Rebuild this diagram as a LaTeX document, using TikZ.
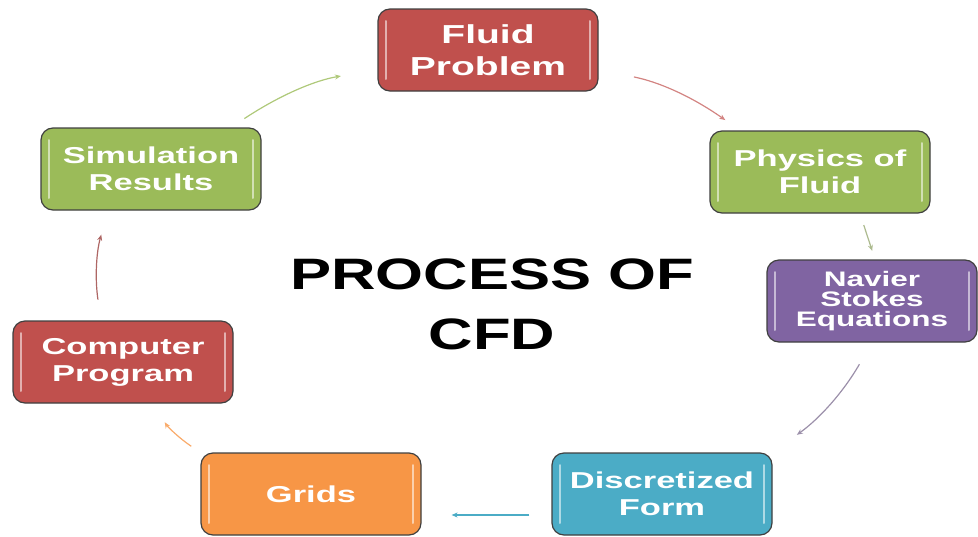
\documentclass[tikz,border=0pt]{standalone}
\usepackage{fontspec}
\setmainfont{Liberation Sans}
\newfontfamily\boxfont[FakeStretch=1.5]{Liberation Sans}
\newfontfamily\titlefont[FakeStretch=1.4]{Liberation Sans}
\usetikzlibrary{arrows.meta}
\definecolor{cfdred}{HTML}{C0504D}
\definecolor{cfdgreen}{HTML}{9BBB59}
\definecolor{cfdpurple}{HTML}{8064A2}
\definecolor{cfdblue}{HTML}{4BACC6}
\definecolor{cfdorange}{HTML}{F79646}
\tikzset{
  stage/.style={draw=black!75, line width=1.2pt, rounded corners=12pt, fill=#1,
    text=white, align=center, inner sep=2pt, minimum width=220pt, minimum height=82pt,
    font=\boxfont\bfseries\fontsize{23}{27}\selectfont,
    path picture={
      \draw[white!55!#1, line width=2pt, line cap=round]
        ([xshift=8pt,yshift=-12pt]path picture bounding box.north west) --
        ([xshift=8pt,yshift=12pt]path picture bounding box.south west);
      \draw[white!55!#1, line width=2pt, line cap=round]
        ([xshift=-8pt,yshift=-12pt]path picture bounding box.north east) --
        ([xshift=-8pt,yshift=12pt]path picture bounding box.south east);
    }},
  flow/.style={draw=#1, line width=1.2pt, -{Stealth[length=6pt,width=5pt]}, bend left=12}
}
\begin{document}
\begin{tikzpicture}[x=1pt,y=1pt]
  \useasboundingbox (0,0) rectangle (978,-536);
  % stages of the cycle
  \node[stage=cfdred, font=\boxfont\bfseries\fontsize{26}{32}\selectfont] (fluid) at (488,-50) {Fluid\\Problem};
  \node[stage=cfdgreen] (physics) at (820,-172) {Physics of\\Fluid};
  \node[stage=cfdpurple, minimum width=210pt, font=\boxfont\bfseries\fontsize{21}{20}\selectfont] (navier) at (872,-301) {Navier\\Stokes\\Equations};
  \node[stage=cfdblue] (disc) at (662,-494) {Discretized\\Form};
  \node[stage=cfdorange] (grids) at (311,-494) {Grids};
  \node[stage=cfdred] (computer) at (123,-362) {Computer\\Program};
  \node[stage=cfdgreen] (sim) at (151,-169) {Simulation\\Results};
  % title
  \node[inner sep=0pt, align=center, font=\titlefont\bfseries\fontsize{44}{60}\selectfont] (title) at (492,-304) {PROCESS OF\\CFD};
  % arrows
  \draw[flow=cfdred!70, shorten <=36pt, shorten >=18pt] ([yshift=-20pt]fluid.east) to ([xshift=-80pt]physics.north);
  \draw[flow=black!25!cfdgreen!60, shorten <=12pt, shorten >=9pt] ([xshift=40pt]physics.south) -- ([xshift=3pt]navier.north);
  \draw[flow=black!30!cfdpurple!60, shorten <=25pt, shorten >=30pt] (navier.south) to (disc.north east);
  \draw[flow=cfdblue, shorten <=22pt, shorten >=30pt] ([yshift=-21pt]disc.west) -- ([yshift=-21pt]grids.east);
  \draw[flow=cfdorange!80, shorten <=11pt, shorten >=22pt] (grids.north west) to ([xshift=30pt]computer.south);
  \draw[flow=black!20!cfdred!80, shorten <=21pt, shorten >=25pt] ([xshift=-22pt]computer.north) to ([xshift=-43pt]sim.south);
  \draw[flow=cfdgreen!80, shorten <=16pt, shorten >=37pt] ([xshift=80pt]sim.north) to ([yshift=-20pt]fluid.west);
\end{tikzpicture}
\end{document}
